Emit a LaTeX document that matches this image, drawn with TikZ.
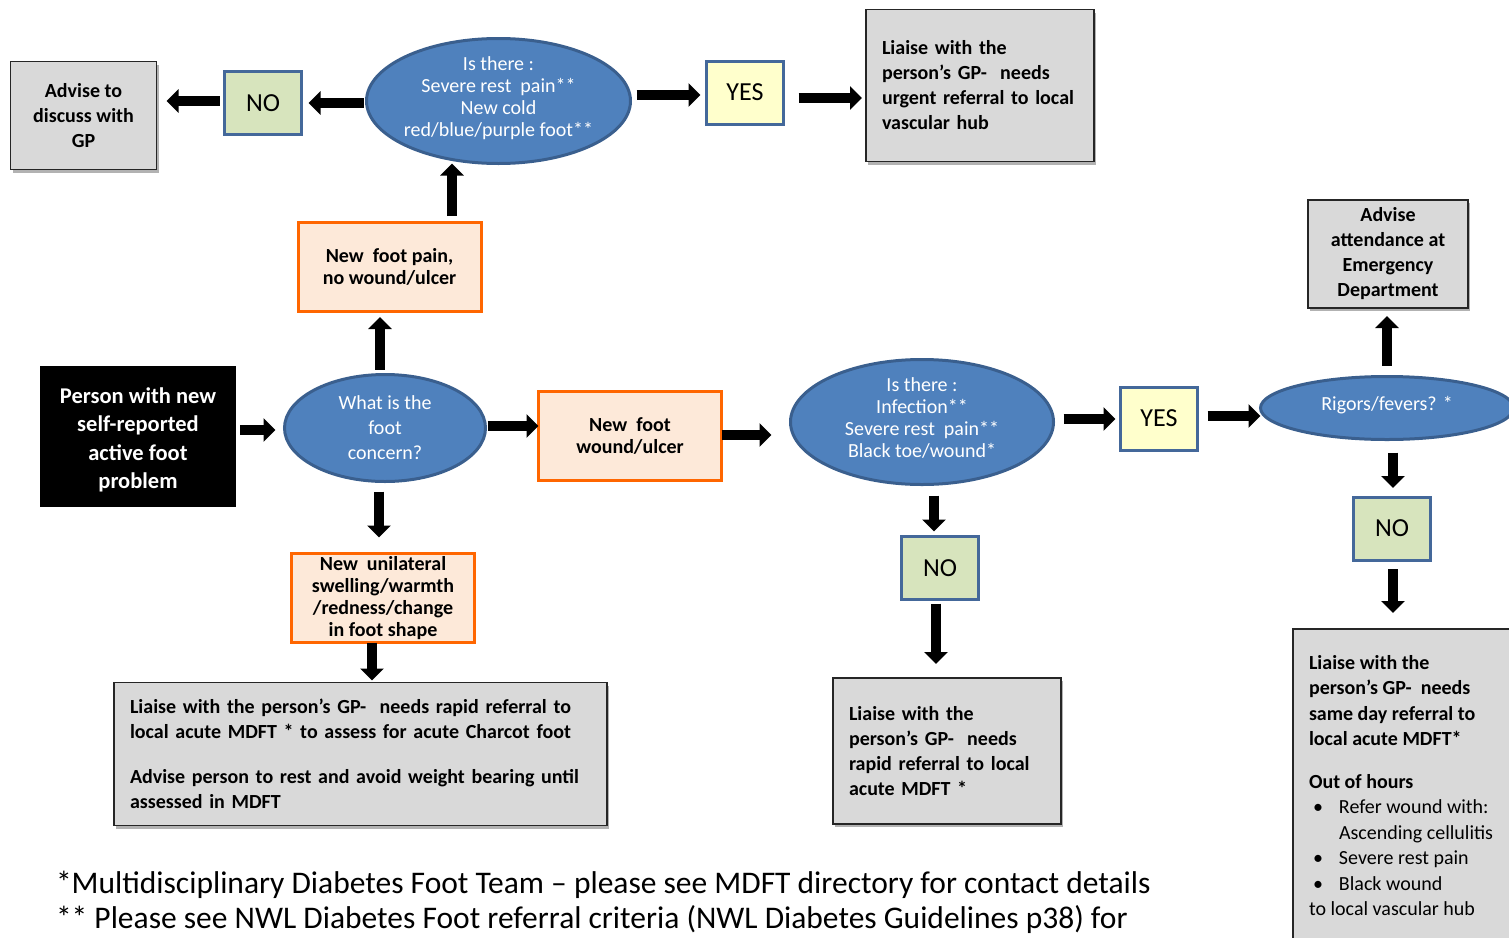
\documentclass[tikz,border=0pt]{standalone}
\usepackage{fontspec}
\setmainfont{Carlito}
\usetikzlibrary{arrows.meta,shapes.geometric,shadows}
\definecolor{ellfill}{HTML}{4F81BD}
\definecolor{elldraw}{HTML}{3A5F8E}
\definecolor{nofill}{HTML}{D7E4BD}
\definecolor{yesfill}{HTML}{FFFFCC}
\definecolor{qdraw}{HTML}{44689A}
\definecolor{orfill}{HTML}{FDE9D9}
\definecolor{ordraw}{HTML}{FF6600}
\definecolor{grayfill}{HTML}{D9D9D9}
\definecolor{graydraw}{HTML}{262626}
\tikzset{
 every node/.style={outer sep=0pt},
 ell/.style={ellipse, draw=elldraw, fill=ellfill, line width=3pt, inner sep=0pt},
 elltext/.style={text=white, inner sep=0pt, align=center, font=\fontsize{20}{22}\selectfont},
 ansno/.style={rectangle, draw=qdraw, fill=nofill, line width=3pt, minimum width=77pt, minimum height=63pt, font=\fontsize{26}{30}\selectfont},
 ansyes/.style={ansno, fill=yesfill},
 orbox/.style={rectangle, draw=ordraw, fill=orfill, line width=3pt, align=center, inner sep=0pt, font=\bfseries\fontsize{20}{22}\selectfont, minimum width=183pt, minimum height=89pt},
 graybox/.style={rectangle, draw=graydraw, fill=grayfill, line width=1.5pt, font=\bfseries\fontsize{20}{25}\selectfont, drop shadow={shadow xshift=2pt, shadow yshift=-3pt, opacity=0.3, fill=black}},
 barrow/.style={line width=9.5pt, -{Triangle[width=23pt,length=12pt]}},
 foot/.style={font=\fontsize{31.5}{35}\selectfont, anchor=west, inner sep=0pt},
}
\begin{document}
\begin{tikzpicture}[x=1pt,y=-1pt]
\useasboundingbox (0,0) rectangle (1509,937);
\clip (0,0) rectangle (1509,937);

% helper rows / columns for arrows
\coordinate (ra) at (0,103);
\coordinate (rb) at (0,101);
\coordinate (rc) at (0,95);
\coordinate (rd) at (0,98);
\coordinate (re) at (0,430);
\coordinate (rf) at (0,426);
\coordinate (rg) at (0,435);
\coordinate (rh) at (0,419);
\coordinate (ri) at (0,416);
\coordinate (ca) at (452,0);
\coordinate (cb) at (380,0);
\coordinate (cc) at (1387,0);
\coordinate (cd) at (1393,0);
\coordinate (ce) at (934,0);
\coordinate (cf) at (936,0);
\coordinate (cg) at (379,0);
\coordinate (ch) at (372,0);

% top row
\node[graybox, align=center, minimum width=146pt, minimum height=108pt] (adv) at (83.5,115.5) {Advise to\\discuss with\\GP};
\node[ansno] (no1) at (263,103) {NO};
\node[ell, minimum width=264pt, minimum height=125pt] (e1) at (498.5,101) {};
\node[elltext] (e1t) at ([yshift=3pt]e1.center) {Is there :\\Severe rest\ \ pain**\\New cold\\red/blue/purple foot**};
\node[ansyes] (yes1) at (745,92.5) {YES};
\node[graybox, align=left, text width=196pt, inner xsep=16pt, minimum height=152pt] (l1) at (980,85.5) {Liaise with the\\person’s GP-\ \ needs\\urgent referral to local\\vascular hub};

\node[orbox] (pain) at (389.5,266.5) {New\ \ foot pain,\\no wound/ulcer};

% middle row
\node[rectangle, fill=black, text=white, minimum width=196pt, minimum height=141pt, align=center, font=\bfseries\fontsize{22.5}{28.5}\selectfont] (black) at (138,436) {\rule{0pt}{24pt}Person with new\\self-reported\\active foot\\problem};
\node[ell, minimum width=201pt, minimum height=107pt] (what) at (385,428) {};
\node[elltext, font=\fontsize{20}{25}\selectfont] (whatt) at (what.center) {What is the\\foot\\concern?};
\node[orbox] (wound) at (630,436) {New\ \ foot\\wound/ulcer};
\node[ell, minimum width=263pt, minimum height=125pt] (e2) at (922,422) {};
\node[elltext] (e2t) at ([yshift=4pt]e2.center) {Is there :\\Infection**\\Severe rest\ \ pain**\\Black toe/wound*};
\node[ansyes] (yes2) at (1159,418.5) {YES};
\node[ell, minimum width=253pt, minimum height=63pt] (e3) at (1387,408) {};
\node[elltext] (e3t) at ([yshift=3pt]e3.center) {Rigors/fevers? *};
\node[graybox, align=center, minimum width=160pt, minimum height=108pt] (ed) at (1388,254) {Advise\\attendance at\\Emergency\\Department};
\node[ansno] (no3) at (1392,528.5) {NO};
\node[ansno] (no2) at (940,568) {NO};

% bottom row
\node[orbox] (uni) at (383,598) {New\ \ unilateral\\swelling/warmth\\/redness/change\\in foot shape};
\node[graybox, align=left, text width=461pt, inner xsep=16pt, minimum height=143pt] (bl) at (360.5,754) {Liaise with the person’s GP-\ \ needs rapid referral to\\local acute MDFT * to assess for acute Charcot foot\\[20pt]Advise person to rest and avoid weight bearing until\\assessed in MDFT};
\node[graybox, align=left, text width=196pt, inner xsep=16pt, minimum height=146pt] (mid) at (947,751) {Liaise with the\\person’s GP-\ \ needs\\rapid referral to local\\acute MDFT *};
\node[graybox, anchor=north west, inner xsep=16pt, inner ysep=26pt] (right) at (1293,629) {\parbox[t][300pt][t]{205pt}{\raggedright\baselineskip=25.5pt
Liaise with the\\
person’s GP-\ \ needs\\
same day referral to\\
local acute MDFT*\\[17pt]
Out of hours\\
\mdseries\makebox[30pt][l]{\hspace{4pt}•}Refer wound with:\\
\hspace*{30pt}Ascending cellulitis\\
\makebox[30pt][l]{\hspace{4pt}•}Severe rest pain\\
\makebox[30pt][l]{\hspace{4pt}•}Black wound\\
to local vascular hub}};

% footnotes
\node[foot] (fn1) at (56,885) {*Multidisciplinary Diabetes Foot Team – please see MDFT directory for contact details};
\node[foot] (fn2) at (56,920) {** Please see NWL Diabetes Foot referral criteria (NWL Diabetes Guidelines p38) for};

% arrows
\draw[barrow, shorten <=3pt, shorten >=7pt] (e1.west |- ra) -- (no1.east |- ra);
\draw[barrow, shorten <=5pt, shorten >=10pt] (no1.west |- rb) -- (adv.east |- rb);
\draw[barrow, shorten <=6pt, shorten >=6pt] (e1.east |- rc) -- (yes1.west |- rc);
\draw[barrow, shorten <=15pt, shorten >=4pt] (yes1.east |- rd) -- (l1.west |- rd);
\draw[barrow, shorten <=6pt] (ca |- pain.north) -- (ca |- e1.south);
\draw[barrow, shorten <=5pt, shorten >=6pt] (cb |- what.north) -- (cb |- pain.south);
\draw[barrow, shorten <=4pt, shorten >=9pt] (black.east |- re) -- (what.west |- re);
\draw[barrow, shorten <=2pt] (what.east |- rf) -- (wound.west |- rf);
\draw[barrow, shorten >=19pt] (wound.east |- rg) -- (e2.west |- rg);
\draw[barrow, shorten <=10pt, shorten >=5pt] (e2.east |- rh) -- (yes2.west |- rh);
\draw[barrow, shorten <=10pt] (yes2.east |- ri) -- (e3.west |- ri);
\draw[barrow, shorten <=11pt, shorten >=8pt] (cc |- e3.north) -- (cc |- ed.south);
\draw[barrow, shorten <=13pt, shorten >=9pt] (cd |- e3.south) -- (cd |- no3.north);
\draw[barrow, shorten <=9pt, shorten >=16pt] (cd |- no3.south) -- (cd |- right.north);
\draw[barrow, shorten <=11pt, shorten >=5pt] (ce |- e2.south) -- (ce |- no2.north);
\draw[barrow, shorten <=4pt, shorten >=14pt] (cf |- no2.south) -- (cf |- mid.north);
\draw[barrow, shorten <=10pt, shorten >=16pt] (cg |- what.south) -- (cg |- uni.north);
\draw[barrow, shorten >=2pt] (ch |- uni.south) -- (ch |- bl.north);
\end{tikzpicture}
\end{document}
